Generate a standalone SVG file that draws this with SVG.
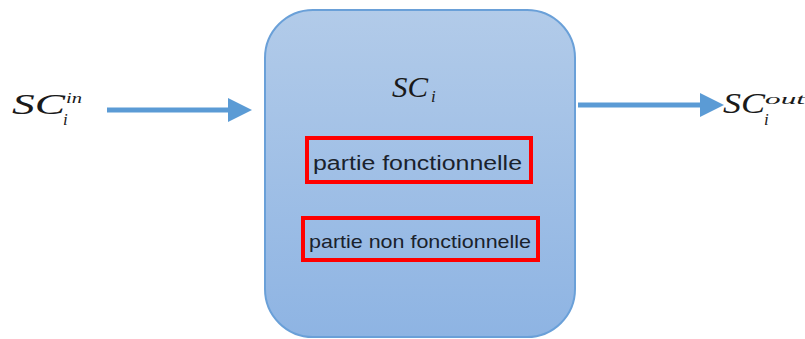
<svg xmlns="http://www.w3.org/2000/svg" width="805" height="339" viewBox="0 0 805 339">
  <style>
    .math { font-family: "Liberation Serif", "DejaVu Serif", "Times New Roman", serif; font-style: italic; fill: #1a1a1a; }
    .label { font-family: "Liberation Sans", Arial, sans-serif; fill: #1a222c; }
    .part { fill: none; stroke: #ff0000; stroke-width: 4; }
    .flow { stroke: #5b9bd5; stroke-width: 5; fill: none; }
    .head { fill: #5b9bd5; }
  </style>
  <defs>
    <linearGradient id="blockFill" x1="0" y1="0" x2="0" y2="1">
      <stop offset="0" stop-color="#b2cbe9"/>
      <stop offset="1" stop-color="#8eb4e3"/>
    </linearGradient>
  </defs>

  <rect width="805" height="339" fill="#ffffff"/>

  <!-- input label -->
  <g id="input">
    <text class="math" x="12" y="114" font-size="29" textLength="53" lengthAdjust="spacingAndGlyphs">SC</text>
    <text class="math" x="66" y="103" font-size="15" textLength="16" lengthAdjust="spacingAndGlyphs">in</text>
    <text class="math" x="63" y="125" font-size="17">i</text>
  </g>

  <!-- main block -->
  <g id="block">
    <rect x="265" y="10" width="310" height="327" rx="48" ry="48" fill="url(#blockFill)" stroke="#6aa0d8" stroke-width="2"/>
    <text class="math" x="392" y="97" font-size="29" textLength="36" lengthAdjust="spacingAndGlyphs">SC</text>
    <text class="math" x="431" y="102" font-size="17">i</text>
  </g>

  <g id="functional">
    <rect class="part" x="307" y="138" width="224" height="44"/>
    <text class="label" x="313" y="170" font-size="20" textLength="209" lengthAdjust="spacingAndGlyphs">partie fonctionnelle</text>
  </g>

  <g id="non-functional">
    <rect class="part" x="303" y="218" width="235" height="42"/>
    <text class="label" x="309" y="248" font-size="19" textLength="222" lengthAdjust="spacingAndGlyphs">partie non fonctionnelle</text>
  </g>

  <!-- output label -->
  <g id="output">
    <text class="math" x="723" y="113" font-size="29" textLength="42" lengthAdjust="spacingAndGlyphs">SC</text>
    <text class="math" x="765" y="104" font-size="15" textLength="40" lengthAdjust="spacingAndGlyphs">out</text>
    <text class="math" x="764" y="125" font-size="17">i</text>
  </g>

  <!-- connectors -->
  <g id="connectors">
    <line class="flow" x1="107" y1="110" x2="229" y2="110"/>
    <polygon class="head" points="228,98 252,110 228,122"/>
    <line class="flow" x1="578" y1="105" x2="701" y2="105"/>
    <polygon class="head" points="700,93 724,105 700,117"/>
  </g>
</svg>
